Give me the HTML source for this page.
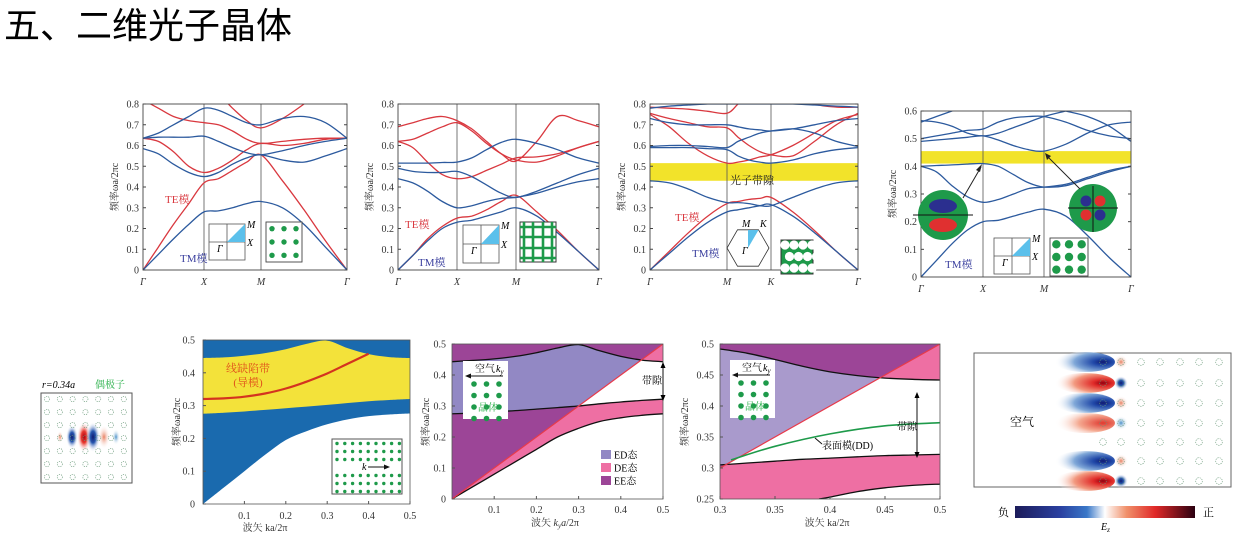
<!DOCTYPE html>
<html><head><meta charset="utf-8">
<style>
html,body{margin:0;padding:0;background:#fff;}
svg{display:block;font-family:"Liberation Serif","Noto Serif CJK SC",serif;}
.t{font-size:10px;fill:#333;}
</style></head>
<body>
<svg id="s" width="1237" height="549" viewBox="0 0 1237 549" xmlns="http://www.w3.org/2000/svg">
<defs>
<linearGradient id="cbar" x1="0" x2="1" y1="0" y2="0">
<stop offset="0" stop-color="#1c1c5a"/><stop offset="0.25" stop-color="#2a40a0"/><stop offset="0.4" stop-color="#3a78c8"/><stop offset="0.5" stop-color="#ffffff"/><stop offset="0.62" stop-color="#f0906a"/><stop offset="0.78" stop-color="#e02828"/><stop offset="1" stop-color="#2a0010"/>
</linearGradient>
<radialGradient id="gR"><stop offset="0" stop-color="#b00010"/><stop offset="0.4" stop-color="#e83a30"/><stop offset="1" stop-color="#fff" stop-opacity="0"/></radialGradient>
<radialGradient id="gB"><stop offset="0" stop-color="#101a70"/><stop offset="0.4" stop-color="#2858b0"/><stop offset="1" stop-color="#fff" stop-opacity="0"/></radialGradient>
<radialGradient id="gRl"><stop offset="0" stop-color="#e88060"/><stop offset="1" stop-color="#fff" stop-opacity="0"/></radialGradient>
<radialGradient id="gBl"><stop offset="0" stop-color="#4a90c8"/><stop offset="1" stop-color="#fff" stop-opacity="0"/></radialGradient>
<radialGradient id="eR" cx="0.8" cy="0.5" r="0.8" fx="0.8" fy="0.5"><stop offset="0" stop-color="#900010"/><stop offset="0.2" stop-color="#e02a28"/><stop offset="0.6" stop-color="#f29a80"/><stop offset="1" stop-color="#fff" stop-opacity="0"/></radialGradient>
<radialGradient id="eB" cx="0.8" cy="0.5" r="0.8" fx="0.8" fy="0.5"><stop offset="0" stop-color="#101a70"/><stop offset="0.2" stop-color="#2048a8"/><stop offset="0.6" stop-color="#80a8d8"/><stop offset="1" stop-color="#fff" stop-opacity="0"/></radialGradient>
<radialGradient id="eRl" cx="0.8" cy="0.5" r="0.8" fx="0.8" fy="0.5"><stop offset="0" stop-color="#e03a30"/><stop offset="0.5" stop-color="#f4a890"/><stop offset="1" stop-color="#fff" stop-opacity="0"/></radialGradient>
</defs>
<text x="4" y="38" font-size="36" fill="#000" style="font-family:'Liberation Sans','Noto Sans CJK SC',sans-serif">五、二维光子晶体</text>
<g id="layer"></g>
</svg>
<script>
const c1Labels = ["Γ","X","M","Γ"];
const c1TM = [
 [0,0.075,0.15,0.22,0.28,0.285,0.30,0.32,0.33,0.30,0.22,0.11,0],
 [0.585,0.56,0.51,0.47,0.45,0.47,0.51,0.54,0.555,0.53,0.52,0.55,0.585],
 [0.635,0.64,0.64,0.64,0.645,0.62,0.59,0.565,0.555,0.575,0.60,0.62,0.635],
 [0.635,0.66,0.70,0.74,0.78,0.77,0.74,0.71,0.70,0.73,0.74,0.71,0.635]
];
const c1TE = [
 [0,0.11,0.22,0.32,0.42,0.44,0.48,0.52,0.555,0.43,0.29,0.14,0],
 [0.635,0.62,0.57,0.50,0.47,0.49,0.53,0.58,0.61,0.60,0.61,0.63,0.635],
 [0.82,0.78,0.74,0.72,0.71,0.70,0.67,0.63,0.61,0.62,0.63,0.635,0.635],
 [0.95,0.92,0.9,0.9,0.9,0.85,0.78,0.72,0.685,0.73,0.80,0.88,0.95]
];
const c2Labels = ["Γ","X","M","Γ"];
const c2TM = [
 [0,0.07,0.14,0.2,0.23,0.24,0.26,0.28,0.30,0.26,0.18,0.09,0],
 [0.44,0.42,0.38,0.33,0.30,0.31,0.33,0.345,0.35,0.37,0.40,0.425,0.44],
 [0.49,0.475,0.47,0.47,0.475,0.45,0.41,0.37,0.35,0.38,0.42,0.46,0.49],
 [0.515,0.515,0.515,0.518,0.52,0.54,0.58,0.615,0.63,0.61,0.58,0.54,0.515]
];
const c2TE = [
 [0,0.07,0.15,0.21,0.25,0.26,0.29,0.33,0.36,0.28,0.19,0.09,0],
 [0.62,0.59,0.52,0.46,0.44,0.45,0.48,0.51,0.54,0.545,0.56,0.59,0.62],
 [0.62,0.63,0.66,0.69,0.71,0.67,0.61,0.56,0.53,0.52,0.55,0.59,0.62],
 [0.69,0.71,0.73,0.74,0.72,0.68,0.62,0.56,0.525,0.62,0.74,0.72,0.69]
];
const c3Labels = ["Γ","M","K","Γ"];
const c3TM = [
 [0,0.08,0.16,0.23,0.28,0.29,0.30,0.31,0.315,0.26,0.18,0.09,0],
 [0.43,0.42,0.39,0.35,0.325,0.325,0.32,0.31,0.31,0.35,0.39,0.42,0.43],
 [0.59,0.59,0.59,0.585,0.58,0.55,0.53,0.52,0.515,0.53,0.56,0.58,0.59],
 [0.595,0.60,0.60,0.595,0.59,0.62,0.64,0.66,0.67,0.68,0.66,0.62,0.595],
 [0.73,0.71,0.70,0.70,0.70,0.69,0.68,0.675,0.67,0.68,0.70,0.72,0.73],
 [0.78,0.79,0.795,0.8,0.8,0.8,0.8,0.8,0.8,0.8,0.795,0.79,0.785]
];
const c3TE = [
 [0,0.09,0.18,0.26,0.32,0.33,0.34,0.345,0.35,0.28,0.19,0.09,0],
 [0.75,0.69,0.61,0.55,0.515,0.52,0.53,0.545,0.555,0.6,0.66,0.72,0.75],
 [0.755,0.73,0.71,0.69,0.685,0.64,0.60,0.57,0.555,0.55,0.62,0.70,0.755],
 [0.785,0.78,0.775,0.765,0.755,0.80,0.85,0.9,0.9,0.85,0.8,0.785,0.785]
];
const c4Labels = ["Γ","X","M","Γ"];
const c4TM = [
 [0,0.06,0.12,0.17,0.2,0.205,0.22,0.235,0.245,0.22,0.15,0.07,0],
 [0.40,0.38,0.33,0.29,0.27,0.28,0.30,0.32,0.325,0.335,0.36,0.385,0.40],
 [0.40,0.403,0.405,0.408,0.41,0.40,0.37,0.34,0.325,0.33,0.355,0.38,0.40],
 [0.49,0.495,0.50,0.505,0.51,0.495,0.475,0.46,0.455,0.48,0.52,0.55,0.56],
 [0.50,0.51,0.52,0.53,0.535,0.56,0.575,0.58,0.58,0.56,0.53,0.51,0.50],
 [0.565,0.56,0.545,0.52,0.51,0.52,0.54,0.56,0.58,0.60,0.62,0.64,0.66],
 [0.56,0.58,0.60,0.62,0.64,0.65,0.64,0.63,0.62,0.60,0.58,0.545,0.49]
];
const c1Ticks = [0,0.1,0.2,0.3,0.4,0.5,0.6,0.7,0.8];
const c4Ticks = [0,0.1,0.2,0.3,0.4,0.5,0.6];
const c3Gap = [0.43,0.515];
const c4Gap = [0.41,0.455];
const bK = [0,0.05,0.1,0.15,0.2,0.25,0.3,0.35,0.4,0.45,0.5];
const bBandTop = [0,0.05,0.1,0.15,0.195,0.222,0.243,0.258,0.268,0.273,0.276];
const bGapLow = [0.275,0.278,0.282,0.287,0.292,0.297,0.302,0.308,0.313,0.317,0.32];
const bGapHigh = [0.445,0.447,0.452,0.46,0.472,0.488,0.498,0.475,0.457,0.448,0.445];
const bGuideK = [0,0.05,0.1,0.15,0.2,0.25,0.3,0.35,0.4];
const bGuide = [0.32,0.322,0.327,0.337,0.352,0.373,0.398,0.428,0.458];
const cK = [0,0.05,0.1,0.15,0.2,0.25,0.3,0.35,0.4,0.45,0.5];
const cUpper = [0.443,0.447,0.452,0.46,0.472,0.487,0.498,0.478,0.46,0.448,0.443];
const cLower = [0.275,0.277,0.281,0.285,0.29,0.295,0.30,0.307,0.313,0.318,0.322];
const cBottom = [0,0.04,0.08,0.12,0.16,0.2,0.228,0.25,0.262,0.27,0.275];
const dK = [0.3,0.325,0.35,0.375,0.4,0.425,0.45,0.475,0.5];
const dUpper = [0.492,0.485,0.475,0.464,0.455,0.449,0.445,0.443,0.442];
const dLower = [0.305,0.308,0.311,0.314,0.316,0.318,0.32,0.321,0.322];
const dBottomK = [0.39,0.4,0.425,0.45,0.475,0.5];
const dBottom = [0.25,0.253,0.262,0.268,0.272,0.274];
const dSurfK = [0.31,0.35,0.4,0.45,0.5];
const dSurf = [0.313,0.335,0.355,0.368,0.373];

const NS="http://www.w3.org/2000/svg";
const layer=document.getElementById('layer');
function el(tag,attrs,parent){const e=document.createElementNS(NS,tag);for(const k in attrs)e.setAttribute(k,attrs[k]);(parent||layer).appendChild(e);return e;}
function txt(x,y,s,attrs,parent){const e=el('text',Object.assign({x:x,y:y},attrs||{}),parent);e.textContent=s;return e;}
function spline(pts){let d="M"+pts[0][0].toFixed(1)+","+pts[0][1].toFixed(1);for(let i=0;i<pts.length-1;i++){const p0=pts[i-1]||pts[i],p1=pts[i],p2=pts[i+1],p3=pts[i+2]||p2;const c1x=p1[0]+(p2[0]-p0[0])/6,c1y=p1[1]+(p2[1]-p0[1])/6,c2x=p2[0]-(p3[0]-p1[0])/6,c2y=p2[1]-(p3[1]-p1[1])/6;d+=" C"+c1x.toFixed(1)+","+c1y.toFixed(1)+" "+c2x.toFixed(1)+","+c2y.toFixed(1)+" "+p2[0].toFixed(1)+","+p2[1].toFixed(1);}return d;}
let clipId=0;
function bandChart(cfg){
 const g=el('g',{});
 
 
 const seg=cfg.seg, X0=seg[0], X1=seg[3], yT=cfg.yTop, yB=cfg.yBot, ymax=cfg.ymax;
 const sy=v=>yB-(v/ymax)*(yB-yT);
 const sx=u=>{const i=Math.min(2,Math.floor(u));return seg[i]+(u-i)*(seg[i+1]-seg[i]);};
 const id='cl'+(clipId++);
 const cp=el('clipPath',{id:id},g);el('rect',{x:X0,y:yT,width:X1-X0,height:yB-yT},cp);
 if(cfg.gap){const r=el('rect',{x:X0,y:sy(cfg.gap[1]),width:X1-X0,height:sy(cfg.gap[0])-sy(cfg.gap[1]),fill:'#f2e32a'},g);}
 [1,2].forEach(i=>{el('line',{x1:seg[i],x2:seg[i],y1:yT,y2:yB,stroke:'#555','stroke-width':0.8},g);});
 const cg=el('g',{'clip-path':'url(#'+id+')'},g);
 const draw=(arr,color,nm)=>arr.forEach((b,bi)=>{const pts=b.slice(0,13).map((v,i)=>[sx(i*0.25),sy(v)]);const p=el('path',{d:spline(pts),fill:'none',stroke:color,'stroke-width':1.3},cg);});
 if(cfg.te)draw(cfg.te,'#d9383f','te');
 draw(cfg.tm,'#2c5a9e','tm');
 el('rect',{x:X0,y:yT,width:X1-X0,height:yB-yT,fill:'none',stroke:'#444','stroke-width':0.9},g);
 cfg.ticks.forEach(v=>{const y=sy(v);el('line',{x1:X0,x2:X0+3,y1:y,y2:y,stroke:'#444'},g);el('line',{x1:X1,x2:X1-3,y1:y,y2:y,stroke:'#444'},g);const t=txt(X0-4,y+3.5,String(v),{class:'t','text-anchor':'end'},g);});
 cfg.labels.forEach((s,i)=>{const t=txt(seg[i],yB+15,s,{class:'t','text-anchor':'middle','font-style':'italic','font-size':11},g);});
 const yt=txt(0,0,'频率ωa/2πc',{class:'t','text-anchor':'middle',transform:'translate('+(X0-25)+','+((yT+yB)/2)+') rotate(-90)','font-size':10},g);
 
 return g;
}
bandChart({name:'band-chart-square-rods',seg:[143,204,261,347],yTop:104,yBot:270,ymax:0.8,ticks:c1Ticks,labels:c1Labels,tm:c1TM,te:c1TE});
bandChart({name:'band-chart-square-veins',seg:[398,457,516,599],yTop:104,yBot:270,ymax:0.8,ticks:c1Ticks,labels:c2Labels,tm:c2TM,te:c2TE});
bandChart({name:'band-chart-triangular-holes',seg:[650,727,771,858],yTop:104,yBot:270,ymax:0.8,ticks:c1Ticks,labels:c3Labels,tm:c3TM,te:c3TE,gap:c3Gap});
bandChart({name:'band-chart-square-rods-tm',seg:[921,983,1044,1131],yTop:111,yBot:277,ymax:0.6,ticks:c4Ticks,labels:c4Labels,tm:c4TM,gap:c4Gap});

[[165,203,'TE模','#d9383f'],[180,262,'TM模','#3a3f9e'],[405,228,'TE模','#d9383f'],[418,266,'TM模','#3a3f9e'],[675,221,'TE模','#d9383f'],[692,257,'TM模','#3a3f9e'],[945,268,'TM模','#3a3f9e']].forEach(a=>{const t=txt(a[0],a[1],a[2],{'font-size':11,fill:a[3]});});
const gapT=txt(752,184,'光子带隙',{'font-size':11,fill:'#222','text-anchor':'middle'});


function bz(x,y,w,h){const g=el('g',{});
 el('rect',{x:x,y:y,width:w,height:h,fill:'#fff',stroke:'#555','stroke-width':0.8},g);
 el('line',{x1:x+w/2,x2:x+w/2,y1:y,y2:y+h,stroke:'#555','stroke-width':0.8},g);el('line',{x1:x,x2:x+w,y1:y+h/2,y2:y+h/2,stroke:'#555','stroke-width':0.8},g);
 el('polygon',{points:(x+w/2)+','+(y+h/2)+' '+(x+w)+','+(y+h/2)+' '+(x+w)+','+y,fill:'#5bc0eb'},g);
 txt(x+w+2,y+4,'M',{'font-size':10,'font-style':'italic'},g);txt(x+w+2,y+h/2+4,'X',{'font-size':10,'font-style':'italic'},g);txt(x+w/2-10,y+h/2+10,'Γ',{'font-size':10,'font-style':'italic'},g);}
function dots(x,y,w,h,n,r){const g=el('g',{});
 el('rect',{x:x,y:y,width:w,height:h,fill:'#fff',stroke:'#444','stroke-width':0.9},g);
 for(let i=0;i<n;i++)for(let j=0;j<n;j++)el('circle',{cx:x+w*(i+0.5)/n,cy:y+h*(j+0.5)/n,r:r,fill:'#1e9a4a'},g);}
bz(209,224,36,36);dots(266,222,36,40,3,2.7);
bz(463,225,36,38);
(function(){const g=el('g',{});el('rect',{x:520,y:222,width:36,height:40,fill:'#fff',stroke:'#333'},g);[524,533,543,552].forEach(x=>el('line',{x1:x,x2:x,y1:222,y2:262,stroke:'#1e9a4a','stroke-width':2.6},g));[227,237,248,258].forEach(y=>el('line',{x1:520,x2:556,y1:y,y2:y,stroke:'#1e9a4a','stroke-width':2.6},g));})();
(function(){const g=el('g',{});const cx=748,cy=248,r=21;let p=[];for(let i=0;i<6;i++){const a=Math.PI/3*i;p.push((cx+r*Math.cos(a)).toFixed(1)+','+(cy+r*Math.sin(a)).toFixed(1));}el('polygon',{points:p.join(' '),fill:'#fff',stroke:'#333','stroke-width':0.8},g);el('polygon',{points:cx+','+cy+' '+(cx+10.5)+','+(cy-18)+' '+cx+','+(cy-18),fill:'#5bc0eb'},g);txt(cx-6,cy-21,'M',{'font-size':10,'font-style':'italic'},g);txt(cx+12,cy-21,'K',{'font-size':10,'font-style':'italic'},g);txt(cx-6,cy+6,'Γ',{'font-size':10,'font-style':'italic'},g);
 const h=el('g',{},layer);el('rect',{x:781,y:240,width:32,height:34,fill:'#1e9a4a',stroke:'#333'},h);for(let j=0;j<3;j++)for(let i=0;i<4;i++)el('circle',{cx:785+i*9+(j%2)*4.5,cy:245+j*11.5,r:4.6,fill:'#fff'},h);})();
bz(994,238,36,36);dots(1050,238,38,38,3,4.2);
(function(){const g=el('g',{});el('circle',{cx:943,cy:215,r:25,fill:'#1e9a4a'},g);el('ellipse',{cx:943,cy:206,rx:14,ry:7,fill:'#2b2f8f'},g);el('ellipse',{cx:943,cy:225,rx:14,ry:7,fill:'#e03030'},g);el('line',{x1:913,x2:973,y1:215,y2:215,stroke:'#111'},g);el('line',{x1:963,y1:198,x2:981,y2:167,stroke:'#222'},g);el('polygon',{points:'982,164 976,170 980,172',fill:'#222'},g);
 const h=el('g',{},layer);el('circle',{cx:1093,cy:208,r:24,fill:'#1e9a4a'},h);[[1086,201,'#2b2f8f'],[1100,201,'#e03030'],[1086,215,'#e03030'],[1100,215,'#2b2f8f']].forEach(c=>el('circle',{cx:c[0],cy:c[1],r:5.5,fill:c[2]},h));el('line',{x1:1068,x2:1118,y1:208,y2:208,stroke:'#111'},h);el('line',{x1:1093,x2:1093,y1:186,y2:232,stroke:'#111'},h);el('line',{x1:1080,y1:189,x2:1047,y2:156,stroke:'#222'},h);el('polygon',{points:'1045,153 1047,160 1051,156',fill:'#222'},h);})();

(function(){const X0=203,X1=410,YT=340,YB=504;const sx=k=>X0+k/0.5*(X1-X0),sy=v=>YB-v/0.5*(YB-YT);
 const g=el('g',{});
 const bulk=el('rect',{x:X0,y:YT,width:X1-X0,height:YB-YT,fill:'#1a6aae'},g);
 const lo=bK.map((k,i)=>[sx(k),sy(bGapLow[i])]),hi=bK.map((k,i)=>[sx(k),sy(bGapHigh[i])]).reverse();
 const sh=spline(hi);
 const gp=el('path',{d:spline(lo)+' L'+hi[0][0]+','+hi[0][1]+sh.slice(sh.indexOf('C')-1)+' Z',fill:'#f3e23a'},g);
 const bt=bK.map((k,i)=>[sx(k),sy(bBandTop[i])]);const wp=el('path',{d:spline(bt)+' L'+X1+','+YB+' Z',fill:'#fff'},g);
 const gm=el('path',{d:spline(bGuideK.map((k,i)=>[sx(k),sy(bGuide[i])])),fill:'none',stroke:'#d4331f','stroke-width':2.2},g);
 el('rect',{x:X0,y:YT,width:X1-X0,height:YB-YT,fill:'none',stroke:'#555','stroke-width':0.8},g);
 [0,0.1,0.2,0.3,0.4,0.5].forEach(v=>{txt(X0-8,sy(v)+3.5,String(v),{class:'t','text-anchor':'end'},g);el('line',{x1:X0,x2:X0+3,y1:sy(v),y2:sy(v),stroke:'#555'},g);});
 [0.1,0.2,0.3,0.4,0.5].forEach(v=>{txt(sx(v),YB+15,String(v),{class:'t','text-anchor':'middle'},g);el('line',{x1:sx(v),x2:sx(v),y1:YB,y2:YB-3,stroke:'#555'},g);});
 txt(265,531,'波矢 ka/2π',{class:'t','text-anchor':'middle'},g);
 txt(0,0,'频率ωa/2πc',{class:'t','text-anchor':'middle',transform:'translate(180,422) rotate(-90)'},g);
 txt(248,372,'线缺陷带',{'font-size':11,fill:'#e0501a','text-anchor':'middle'},g);txt(248,386,'(导模)',{'font-size':11,fill:'#e0501a','text-anchor':'middle'},g);
 const ins=el('g',{},g);el('rect',{x:332,y:439,width:70,height:55,fill:'#fff',stroke:'#555'},ins);
 [443.5,451.5,459.5,475.5,483.5,491.5].forEach(y=>{for(let i=0;i<9;i++)el('circle',{cx:337+i*7.8,cy:y,r:1.7,fill:'#1e9a4a'},ins);});
 txt(362,470,'k',{'font-size':10,'font-style':'italic'},ins);el('line',{x1:368,x2:386,y1:467,y2:467,stroke:'#111'},ins);el('polygon',{points:'390,467 384,464.5 384,469.5',fill:'#111'},ins);
})();

function surf(cfg){const {X0,X1,YT,YB,kmin,kmax,vmin,vmax}=cfg;const sx=k=>X0+(k-kmin)/(kmax-kmin)*(X1-X0),sy=v=>YB-(v-vmin)/(vmax-vmin)*(YB-YT);
 const g=el('g',{});
 const id='cs'+(clipId++);const cp=el('clipPath',{id:id},g);el('rect',{x:X0,y:YT,width:X1-X0,height:YB-YT},cp);
 const inner=el('g',{'clip-path':'url(#'+id+')'},g);
 const ll=[[sx(kmin),sy(kmin)],[sx(kmax),sy(kmax)]];
 el('rect',{x:X0,y:YT,width:X1-X0,height:YB-YT,fill:'#9c4597'},inner);
 const belowId='cb'+(clipId++),aboveId='ca'+(clipId++);
 const cb=el('clipPath',{id:belowId},g);el('polygon',{points:ll[0].join(',')+' '+ll[1].join(',')+' '+X1+','+(YB+50)+' '+X0+','+(YB+50)},cb);
 const ca=el('clipPath',{id:aboveId},g);el('polygon',{points:ll[0].join(',')+' '+ll[1].join(',')+' '+X1+','+(YT-50)+' '+X0+','+(YT-50)},ca);
 const pk=el('rect',{x:X0,y:YT-50,width:X1-X0,height:YB-YT+100,fill:'#ee6fa3','clip-path':'url(#'+belowId+')'},inner);
 const up=cfg.k.map((k,i)=>[sx(k),sy(cfg.up[i])]),lo=cfg.k.map((k,i)=>[sx(k),sy(cfg.lo[i])]);
 const upR=up.slice().reverse();const sR=spline(upR);
 const band=spline(lo)+' L'+upR[0][0]+','+upR[0][1]+sR.slice(sR.indexOf('C')-1)+' Z';
 el('path',{d:band,fill:'#fff','clip-path':'url(#'+belowId+')'},inner);
 const ed=el('path',{d:band,fill:cfg.edFill,'clip-path':'url(#'+aboveId+')'},inner);
 const bt=cfg.bk.map((k,i)=>[sx(k),sy(cfg.bot[i])]);
 el('path',{d:spline(bt)+' L'+(X1+5)+','+(YB+5)+' L'+bt[0][0]+','+(YB+5)+' Z',fill:'#fff'},inner);
 [up,lo,bt].forEach(p=>el('path',{d:spline(p),fill:'none',stroke:'#111','stroke-width':1.3},inner));
 const l=el('line',{x1:ll[0][0],y1:ll[0][1],x2:ll[1][0],y2:ll[1][1],stroke:'#e83a4a','stroke-width':1.2},inner);
 if(cfg.sk){const s=el('path',{d:spline(cfg.sk.map((k,i)=>[sx(k),sy(cfg.sv[i])])),fill:'none',stroke:'#1e9a4a','stroke-width':1.6},inner);}
 el('rect',{x:X0,y:YT,width:X1-X0,height:YB-YT,fill:'none',stroke:'#555','stroke-width':0.8},g);
 cfg.yt.forEach(v=>{txt(X0-6,sy(v)+3.5,String(v),{class:'t','text-anchor':'end'},g);el('line',{x1:X0,x2:X0+3,y1:sy(v),y2:sy(v),stroke:'#555'},g);});
 cfg.xt.forEach(v=>{txt(sx(v),YB+14,String(v),{class:'t','text-anchor':'middle'},g);el('line',{x1:sx(v),x2:sx(v),y1:YB,y2:YB-3,stroke:'#555'},g);});
 return {g,sx,sy};}
const C=surf({name:'surface-states-chart',X0:452,X1:663,YT:344,YB:499,kmin:0,kmax:0.5,vmin:0,vmax:0.5,k:cK,up:cUpper,lo:cLower,bk:cK,bot:cBottom,yt:[0,0.1,0.2,0.3,0.4,0.5],xt:[0.1,0.2,0.3,0.4,0.5],edFill:'#9288c4'});
const D=surf({name:'surface-mode-chart',X0:720,X1:940,YT:344,YB:499,kmin:0.3,kmax:0.5,vmin:0.25,vmax:0.5,k:dK,up:dUpper,lo:dLower,bk:dBottomK,bot:dBottom,sk:dSurfK,sv:dSurf,yt:[0.25,0.3,0.35,0.4,0.45,0.5],xt:[0.3,0.35,0.4,0.45,0.5],edFill:'#a99acc'});
(function(){const t=el('text',{x:555,y:526,class:'t','text-anchor':'middle'},C.g);t.innerHTML='波矢 <tspan font-style="italic">k</tspan><tspan font-style="italic" font-size="7" dy="2">y</tspan><tspan dy="-2" font-style="italic">a</tspan>/2π';})();
txt(0,0,'频率ωa/2πc',{class:'t','text-anchor':'middle',transform:'translate(429,422) rotate(-90)'},C.g);
txt(827,526,'波矢 ka/2π',{class:'t','text-anchor':'middle'},D.g);
txt(0,0,'频率ωa/2πc',{class:'t','text-anchor':'middle',transform:'translate(688,422) rotate(-90)'},D.g);
function crystalInset(x,y,parent){const g=el('g',{},parent);el('rect',{x:x,y:y,width:45,height:58,fill:'#fff'},g);txt(x+12,y+11,'空气',{'font-size':10},g);const k=el('text',{x:x+33,y:y+11,'font-size':10,'font-style':'italic'},g);k.innerHTML='k<tspan font-size="7" dy="2">y</tspan>';el('line',{x1:x+5,x2:x+40,y1:y+15,y2:y+15,stroke:'#111'},g);el('polygon',{points:(x+2)+','+(y+15)+' '+(x+8)+','+(y+12.5)+' '+(x+8)+','+(y+17.5),fill:'#111'},g);for(let j=0;j<4;j++)for(let i=0;i<3;i++)el('circle',{cx:x+11+i*12.5,cy:y+23+j*11.5,r:2.8,fill:'#1e9a4a'},g);txt(x+15,y+50,'晶体',{'font-size':10,fill:'#2ab04a'},g);}
crystalInset(463,361,C.g);crystalInset(730,360,D.g);
[[455,'ED态','#9288c4'],[468,'DE态','#ee6fa3'],[481,'EE态','#9c4597']].forEach(a=>{const g=el('g',{},C.g);el('rect',{x:601,y:a[0]-5,width:10,height:9,fill:a[2]},g);txt(614,a[0]+3.5,a[1],{'font-size':10},g);});
function arrow(x,y1,y2,g){el('line',{x1:x,x2:x,y1:y1,y2:y2,stroke:'#111'},g);el('polygon',{points:x+','+(y1-3)+' '+(x-2.5)+','+(y1+3)+' '+(x+2.5)+','+(y1+3)},g);el('polygon',{points:x+','+(y2+3)+' '+(x-2.5)+','+(y2-3)+' '+(x+2.5)+','+(y2-3)},g);}
arrow(663,365,398,C.g);txt(642,384,'带隙',{'font-size':10},C.g);
arrow(917,395,455,D.g);txt(897,430,'带隙',{'font-size':10},D.g);
el('line',{x1:815,y1:438,x2:822,y2:444,stroke:'#111'},D.g);txt(822,449,'表面模(DD)',{'font-size':10},D.g);

(function(){const g=el('g',{});
 txt(42,388,'r=0.34a',{'font-size':10,'font-style':'italic'},g);txt(95,388,'偶极子',{'font-size':10,fill:'#2ab04a'},g);
 el('rect',{x:41,y:393,width:91,height:90,fill:'#fff',stroke:'#555'},g);
 [[72,'gB',6,12],[84,'gR',7,15],[93,'gB',7,15],[104,'gRl',6,12],[116,'gBl',4,8],[60,'gRl',3,6]].forEach(b=>el('ellipse',{cx:b[0],cy:437,rx:b[2],ry:b[3],fill:'url(#'+b[1]+')'},g));
 for(let j=0;j<7;j++)for(let i=0;i<7;i++)el('circle',{cx:47+i*12.8,cy:399+j*13,r:2.6,fill:'none',stroke:'#6a9a7a','stroke-width':0.6,'stroke-dasharray':'1.2 1'},g);
 const h=el('g',{},layer);
 el('rect',{x:974,y:353,width:257,height:134,fill:'#fff',stroke:'#666'},h);
 const rows=[362,383,403,423,442,461,481],big=['eB','eR','eB','eRl',null,'eB','eR'],sm=['gRl','gB','gRl','gBl',null,'gRl','gB'];
 rows.forEach((y,i)=>{if(big[i])el('ellipse',{cx:1085,cy:y,rx:30,ry:10,fill:'url(#'+big[i]+')'},h);if(sm[i])el('circle',{cx:1121,cy:y,r:7,fill:'url(#'+sm[i]+')'},h);for(let c=0;c<7;c++)el('circle',{cx:1103+[0,18,38,57,77,96,116][c],cy:y,r:3.3,fill:'none',stroke:'#6a9a7a','stroke-width':0.6,'stroke-dasharray':'1.3 1'},h);});
 txt(1010,426,'空气',{'font-size':12},h);
 const cb=el('rect',{x:1015,y:506,width:180,height:12,fill:'url(#cbar)'},h);
 txt(998,516,'负',{'font-size':11},h);txt(1203,516,'正',{'font-size':11},h);
 const ez=el('text',{x:1101,y:530,'font-size':10,'font-style':'italic'},h);ez.innerHTML='E<tspan font-size="7" dy="2">z</tspan>';
})();
</script>
</body></html>
